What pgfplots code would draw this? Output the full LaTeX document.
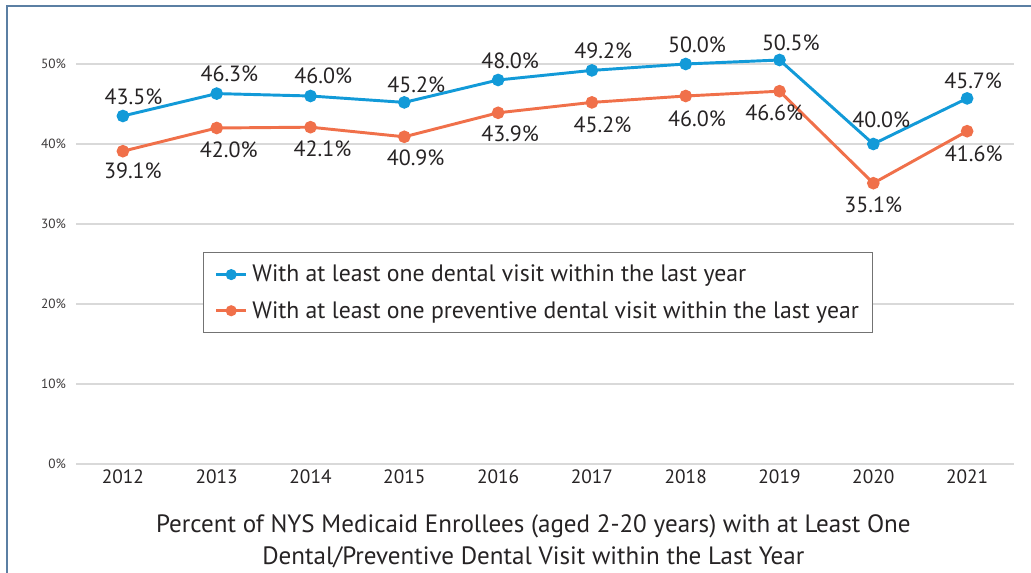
\documentclass[border=0pt]{standalone}
\usepackage{pgfplots}
\pgfplotsset{compat=1.18}
\usepackage{fontspec}
\setmainfont{PT Sans}
\definecolor{dentblue}{HTML}{129AD8}
\definecolor{dentorange}{HTML}{F0704A}
\definecolor{framecol}{HTML}{5B7FA3}
\definecolor{txt}{HTML}{262324}

\begin{document}
\begin{tikzpicture}[font=\color{txt}]
% page = 1031 x 573 px, 1 px = 0.75pt
\useasboundingbox (0,0) rectangle (773.25pt,429.75pt);
\clip (0,0) rectangle (773.25pt,429.75pt);
\draw[framecol, line width=1.2pt] (5.25pt,-5pt) -- (5.25pt,425.25pt) -- (780pt,425.25pt);

\begin{axis}[
    at={(57pt,81.75pt)}, anchor=south west,
    scale only axis,
    width=703.5pt, height=300pt,
    xmin=-0.5, xmax=9.5,
    ymin=0, ymax=50,
    clip=false,
    axis line style={draw=none},
    major tick style={draw=none},
    ytick={0,10,20,30,40,50},
    yticklabels={0\%,10\%,20\%,30\%,40\%,50\%},
    yticklabel style={font=\fontsize{10}{12}\selectfont\color{txt!90}, anchor=east, xshift=-4pt},
    xtick={0,...,9},
    xticklabels={2012,2013,2014,2015,2016,2017,2018,2019,2020,2021},
    xticklabel style={font=\fontsize{14.5}{17}\selectfont\color{txt}, yshift=-1pt},
    ymajorgrids=true,
    grid style={draw=black!15, line width=1pt},
    legend style={at={(0.1354,0.53)}, anchor=north west,
        draw=black!55, line width=0.8pt,
        font=\fontsize{17.8}{21}\selectfont\color{txt},
        inner xsep=8.5pt, inner ysep=7.5pt, row sep=9pt},
    legend cell align=left,
    legend image code/.code={
        \draw[#1, line width=2pt] (0pt,0pt) -- (22.5pt,0pt);
        \fill[#1] (11.25pt,0pt) circle (3pt);
        \path (24pt,0pt);},
]
\addplot[dentblue, line width=2.2pt, mark=*, mark size=3.6pt] coordinates {
    (0,43.5) (1,46.3) (2,46.0) (3,45.2) (4,48.0)
    (5,49.2) (6,50.0) (7,50.5) (8,40.0) (9,45.7)};
\addlegendentry{With at least one dental visit within the last year}
\addplot[dentorange, line width=2.2pt, mark=*, mark size=3.6pt] coordinates {
    (0,39.1) (1,42.0) (2,42.1) (3,40.9) (4,43.9)
    (5,45.2) (6,46.0) (7,46.6) (8,35.1) (9,41.6)};
\addlegendentry{With at least one preventive dental visit within the last year\hspace{8pt}}

% value labels (offsets in px * 0.75)
\begin{scope}[every node/.style={font=\fontsize{16.5}{19}\selectfont\color{txt}, inner sep=0pt}]
\node[xshift=8pt, yshift=14.5pt] at (axis cs:0,43.5) {43.5\%};
\node[xshift=9.5pt, yshift=15pt] at (axis cs:1,46.3) {46.3\%};
\node[xshift=9.5pt, yshift=15pt] at (axis cs:2,46.0) {46.0\%};
\node[xshift=9pt, yshift=13.5pt] at (axis cs:3,45.2) {45.2\%};
\node[xshift=9pt, yshift=14.5pt] at (axis cs:4,48.0) {48.0\%};
\node[xshift=8.5pt, yshift=14.5pt] at (axis cs:5,49.2) {49.2\%};
\node[xshift=8.5pt, yshift=14.5pt] at (axis cs:6,50.0) {50.0\%};
\node[xshift=8.5pt, yshift=13pt] at (axis cs:7,50.5) {50.5\%};
\node[xshift=6pt, yshift=18pt] at (axis cs:8,40.0) {40.0\%};
\node[xshift=4.5pt, yshift=13pt] at (axis cs:9,45.7) {45.7\%};

\node[xshift=7.5pt, yshift=-14.5pt] at (axis cs:0,39.1) {39.1\%};
\node[xshift=9pt, yshift=-16pt] at (axis cs:1,42.0) {42.0\%};
\node[xshift=9pt, yshift=-16pt] at (axis cs:2,42.1) {42.1\%};
\node[xshift=8.5pt, yshift=-16pt] at (axis cs:3,40.9) {40.9\%};
\node[xshift=9pt, yshift=-16pt] at (axis cs:4,43.9) {43.9\%};
\node[xshift=8pt, yshift=-17pt] at (axis cs:5,45.2) {45.2\%};
\node[xshift=8.5pt, yshift=-17pt] at (axis cs:6,46.0) {46.0\%};
\node[xshift=-4pt, yshift=-16.5pt] at (axis cs:7,46.6) {46.6\%};
\node[xshift=0pt, yshift=-16.5pt] at (axis cs:8,35.1) {35.1\%};
\node[xshift=5pt, yshift=-17pt] at (axis cs:9,41.6) {41.6\%};
\end{scope}
\end{axis}

% chart title below the axis
\node[align=center, font=\fontsize{18.8}{24}\selectfont\color{txt}] at (400pt,24pt)
  {Percent of NYS Medicaid Enrollees (aged 2-20 years) with at Least One\\
   Dental/Preventive Dental Visit within the Last Year};
\end{tikzpicture}
\end{document}
